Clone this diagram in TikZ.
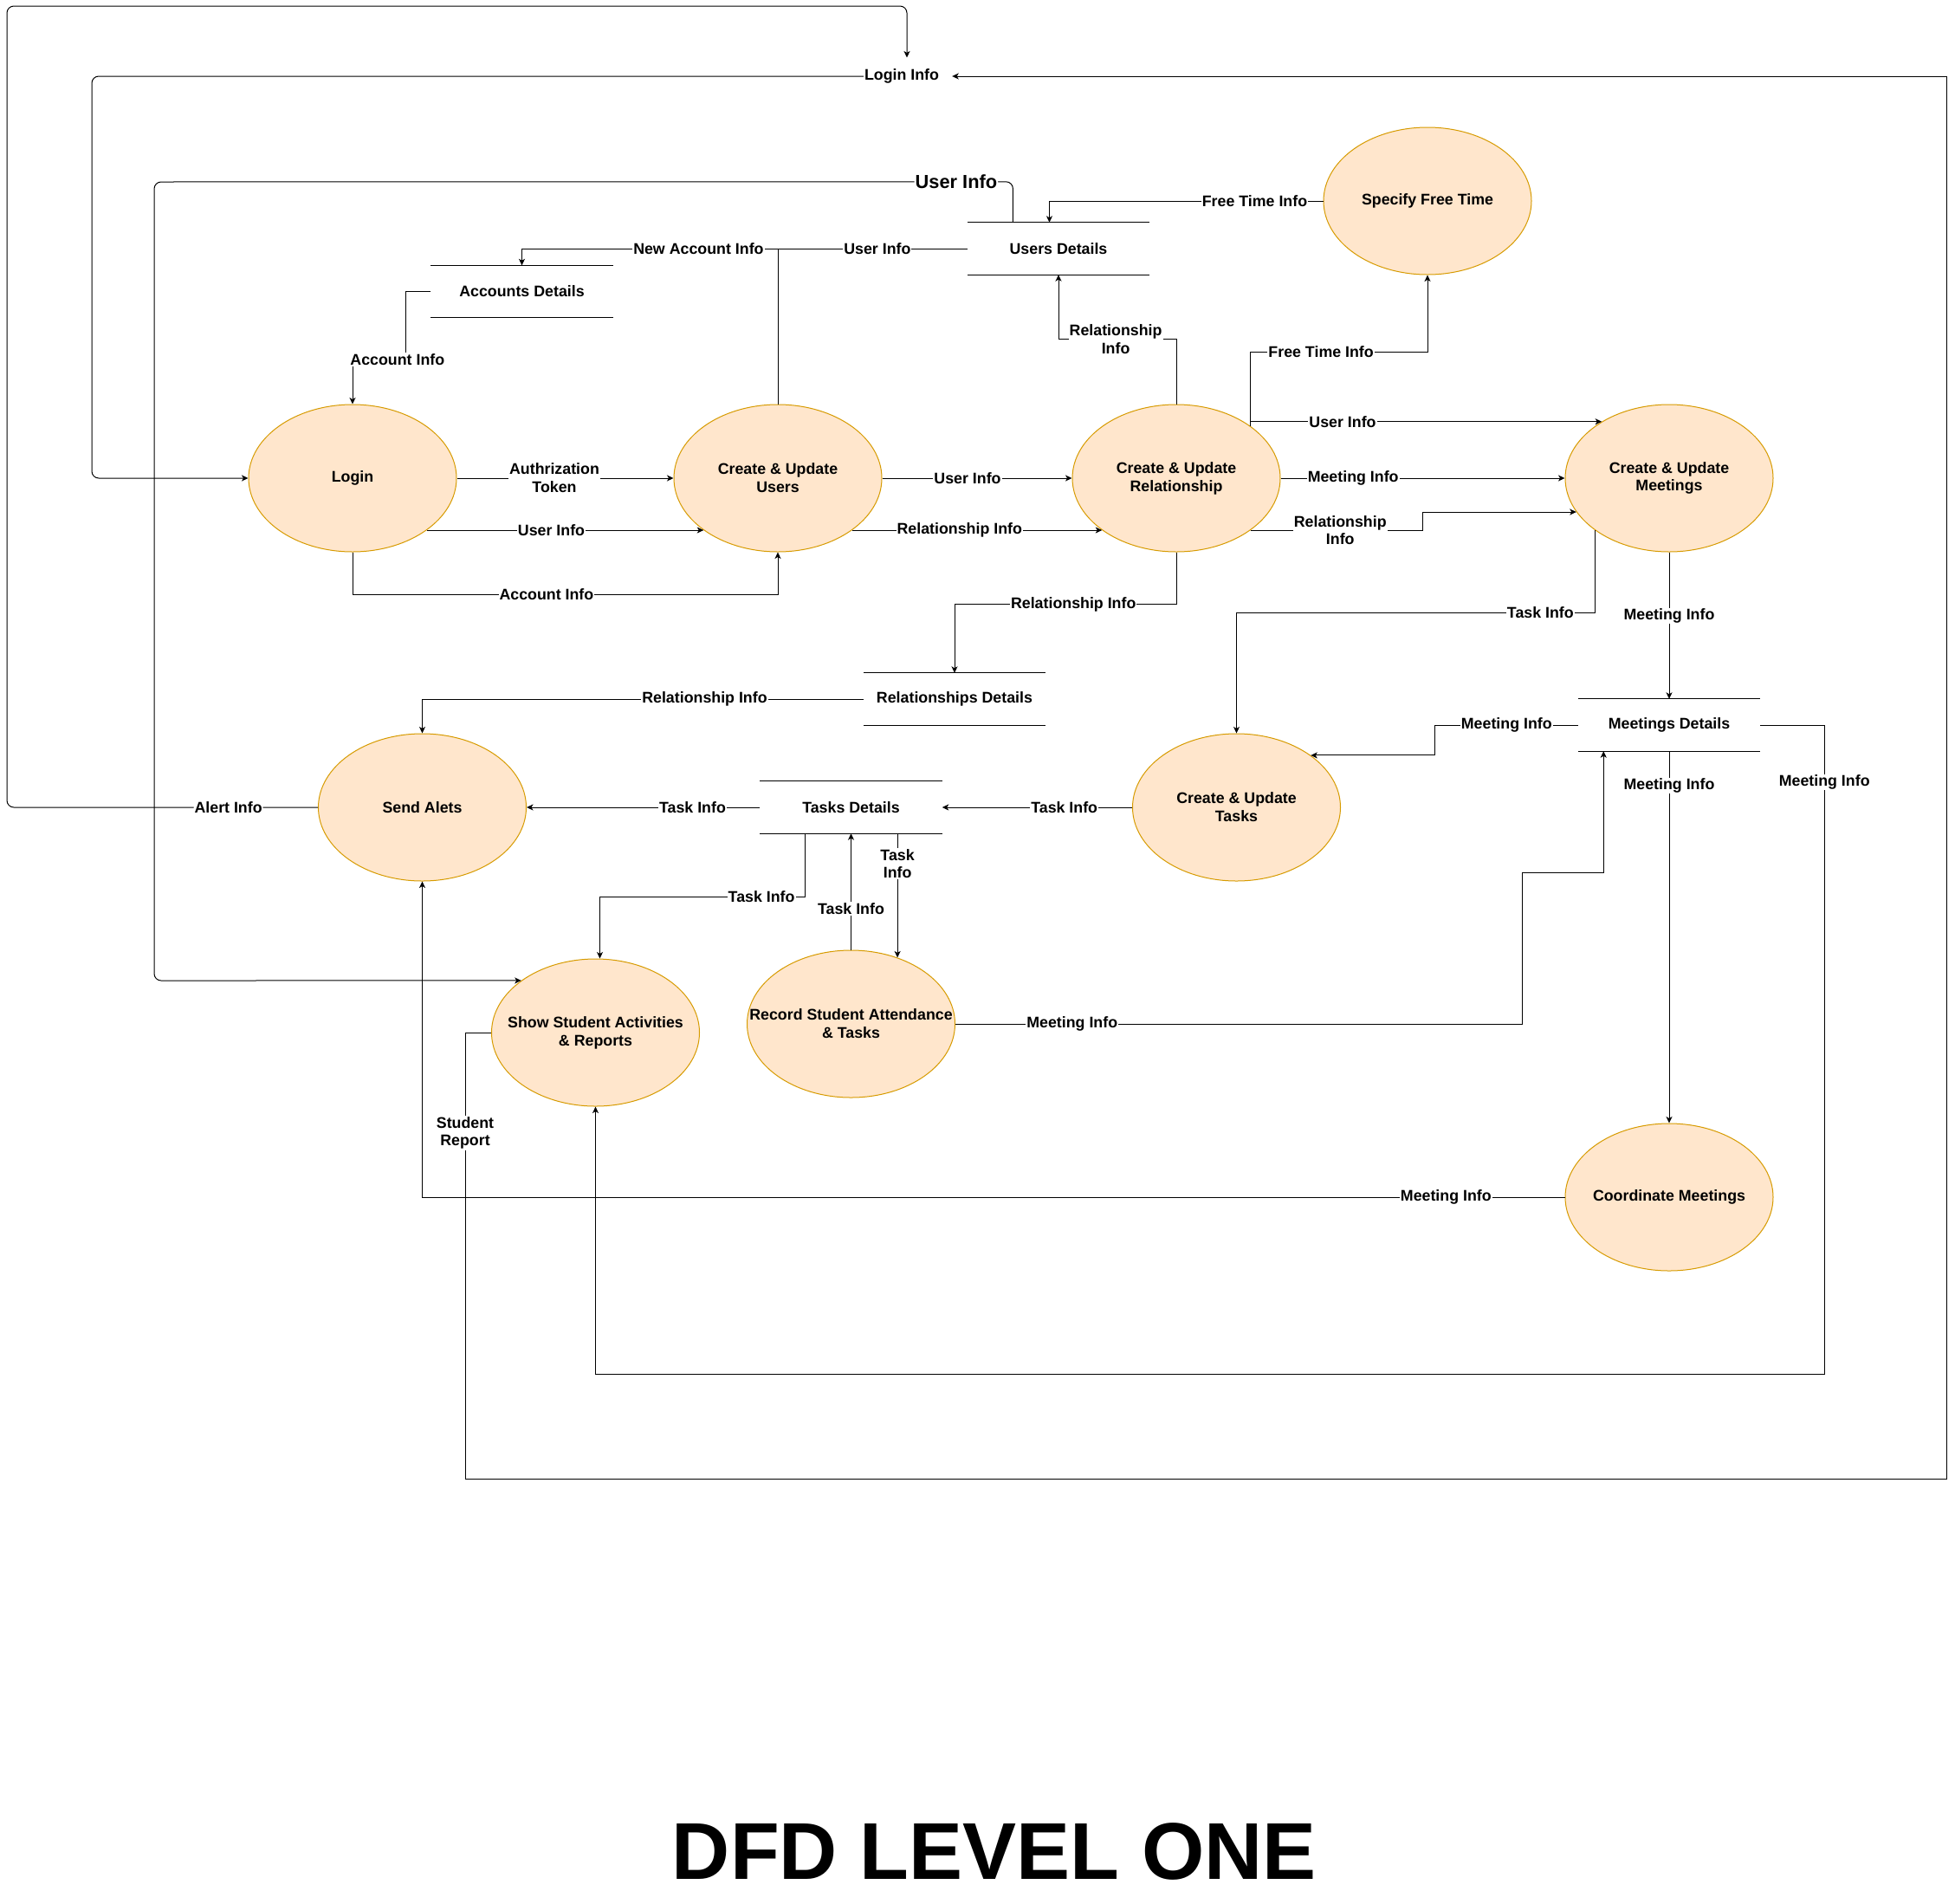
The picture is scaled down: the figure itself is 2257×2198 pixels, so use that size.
\documentclass[tikz,border=0pt]{standalone}
\usepackage{fontspec}
\setmainfont{Liberation Sans}
\usetikzlibrary{shapes.geometric,arrows.meta,calc}
\definecolor{procfill}{HTML}{FFE6CC}
\definecolor{procline}{HTML}{D79B00}

\begin{document}
\begin{tikzpicture}[x=1pt,y=-1pt,
    proc/.style={ellipse, draw=procline, line width=1pt, fill=procfill,
      minimum width=240pt, minimum height=170pt, inner xsep=-70pt, inner ysep=0pt,
      align=center, font=\fontsize{17.8}{20.8}\selectfont\bfseries},
    datastore/.style={rectangle, minimum width=210pt, minimum height=60pt, inner sep=0pt,
      font=\fontsize{17.8}{20.8}\selectfont\bfseries},
    storeline/.style={line width=1.1pt},
    plainline/.style={line width=1pt},
    flowline/.style={line width=1pt, -{Stealth[length=7.5pt,width=7pt,inset=2pt]}},
    flowlbl/.style={fill=white, inner sep=1pt, align=center,
      font=\fontsize{17.8}{20.8}\selectfont\bfseries},
    roundpath/.style={rounded corners=8pt}]

  % page
  \path[fill=white] (0,0) rectangle (2257,2198);

  % processes
  \node[proc] (login) at (407,552) {Login};
  \node[proc] (users) at (898,552) {Create \& Update\\Users};
  \node[proc] (rel) at (1358,552) {Create \& Update\\Relationship};
  \node[proc] (meet) at (1927,552) {Create \& Update\\Meetings};
  \node[proc] (free) at (1648,232) {Specify Free Time};
  \node[proc] (alert) at (487.5,932) {Send Alets};
  \node[proc] (tasks) at (1427.5,932) {Create \& Update\\Tasks};
  \node[proc] (show) at (687.5,1192) {Show Student Activities\\\& Reports};
  \node[proc] (rec) at (982.5,1182) {Record Student Attendance\\\& Tasks};
  \node[proc] (coord) at (1927,1382) {Coordinate Meetings};

  % data stores
  \node[datastore] (accD) at (602.5,336.5) {Accounts Details};
  \node[datastore] (usrD) at (1222,287) {Users Details};
  \node[datastore] (relD) at (1102,807) {Relationships Details};
  \node[datastore] (tskD) at (982.5,932) {Tasks Details};
  \node[datastore] (mtgD) at (1927,837) {Meetings Details};
  \foreach \s in {accD,usrD,relD,tskD,mtgD}
    \draw[storeline] (\s.north west) -- (\s.north east) (\s.south west) -- (\s.south east);

  % login info junction
  \node[flowlbl] (loginInfo) at (1041,88) {Login Info};

  % around login
  \draw[flowline, roundpath] (loginInfo.west) -- (106,88) -- (106,552) -- (login.west);
  \draw[flowline] (accD.west) -- (468,336.5) -- (468,415) -- node[flowlbl, pos=0.15]{Account Info} (407,415) -- (login.north);
  \draw[flowline] (login.east) -- node[flowlbl, pos=0.45]{Authrization\\Token} (users.west);
  \draw[flowline] (login.325) -- node[flowlbl, pos=0.45]{User Info} (users.215);
  \draw[flowline] (login.south) -- ++(0,48.5) -| node[flowlbl, pos=0.228]{Account Info} (users.south);

  % create & update users
  \draw[flowline] (users.north) -- (users.north |- usrD.west) -| node[flowlbl, pos=0.155]{New Account Info} (accD.north);
  \draw[plainline] (usrD.west) -- node[flowlbl, pos=0.475]{User Info} (users.north |- usrD.west);
  \draw[flowline] (users.east) -- node[flowlbl, pos=0.45]{User Info} (rel.west);
  \draw[flowline] (users.325) -- node[flowlbl, pos=0.43]{Relationship Info} (rel.215);

  % create & update relationship
  \draw[flowline] (rel.north) -- ++(0,-75) -| node[flowlbl, pos=0.257]{Relationship\\Info} (usrD.south);
  \draw[flowline] (rel.south) -- ++(0,60) -| node[flowlbl, pos=0.232]{Relationship Info} (relD.north);
  \draw[flowline] (rel.north east) -- ++(0,-85) -| node[flowlbl, pos=0.2]{Free Time Info} (free.south);
  \draw[flowline] (rel.north east) -- (rel.north east |- meet.140) -- node[flowlbl, pos=0.263]{User Info} (meet.140);
  \draw[flowline] (rel.east) -- node[flowlbl, pos=0.255]{Meeting Info} (meet.west);
  \draw[flowline] (rel.325) -- node[flowlbl, pos=0.52]{Relationship\\Info} ++(199,0) |- (meet.200);

  % users details
  \draw[flowline] (free.west) -| node[flowlbl, pos=0.125]{Free Time Info} ($(usrD.north west)!0.45!(usrD.north east)$);
  \draw[flowline, roundpath] ($(usrD.north west)!0.25!(usrD.north east)$) -- ++(0,-47)
    -- node[flowlbl, font=\fontsize{21.8}{25}\selectfont\bfseries, pos=0.066]{User Info} (178,210)
    -- (178,1132) -- (show.145);

  % create & update meetings
  \draw[flowline] (meet.south) -- node[flowlbl, pos=0.435]{Meeting Info} (mtgD.north);
  \draw[flowline] (meet.215) -- ++(0,95) -| node[flowlbl, pos=0.076]{Task Info} (tasks.north);

  % meetings details
  \draw[flowline] (mtgD.west) -- node[flowlbl, pos=0.5]{Meeting Info} ++(-165,0) |- (tasks.35);
  \draw[flowline] (mtgD.south) -- node[flowlbl, pos=0.093]{Meeting Info} (coord.north);
  \draw[flowline] (mtgD.east) -- ++(74,0) -- node[flowlbl, pos=0.088]{Meeting Info} ++(0,749) -| (show.south);

  % tasks
  \draw[flowline] (tasks.west) -- node[flowlbl, pos=0.357]{Task Info} (tskD.east);
  \draw[flowline] (tskD.west) -- node[flowlbl, pos=0.289]{Task Info} (alert.east);
  \draw[flowline] ($(tskD.south west)!0.25!(tskD.south east)$) -- ++(0,73) -| node[flowlbl, pos=0.107]{Task Info} ([xshift=5pt]show.north);
  \draw[flowline] (rec.north) -- node[flowlbl, pos=0.354]{Task Info} (rec.north |- tskD.south);
  \draw[flowline] (tskD.south -| rec.55) -- node[flowlbl, pos=0.244]{Task\\Info} (rec.55);
  \draw[flowline] (rec.east) -- node[flowlbl, pos=0.206]{Meeting Info} ++(654,0) -- ++(0,-175) -| ($(mtgD.south west)!0.14!(mtgD.south east)$);

  % alerts and reports
  \draw[flowline] (relD.west) -| node[flowlbl, pos=0.18]{Relationship Info} (alert.north);
  \draw[flowline] (coord.west) -| node[flowlbl, pos=0.052]{Meeting Info} (alert.south);
  \draw[flowline, roundpath] (alert.west) -- node[flowlbl, pos=0.288]{Alert Info} (8,932) -- (8,7) -| ([xshift=6pt,yshift=12pt]loginInfo.north);
  \draw[flowline] (show.west) -- ++(-30,0) -- node[flowlbl, pos=0.225]{Student\\Report} ++(0,515) -- ++(1710,0) |- ([xshift=14pt]loginInfo.east);

  % title
  \node[font=\fontsize{93}{100}\selectfont\bfseries] (title) at (1148,2137) {DFD LEVEL ONE};
\end{tikzpicture}
\end{document}
